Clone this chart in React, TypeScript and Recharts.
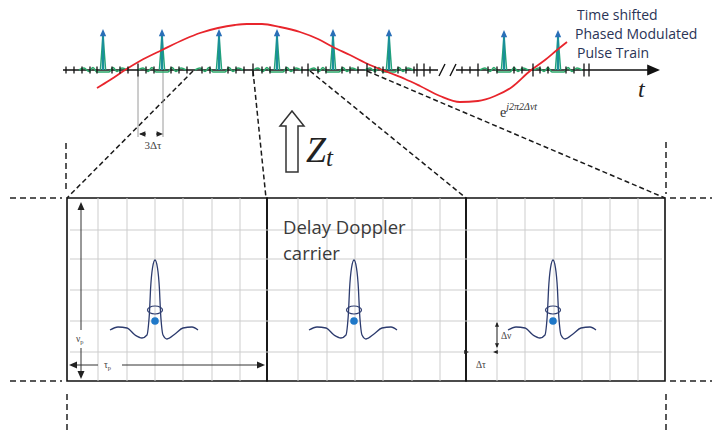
import React from 'react';
import { ComposedChart, Line, Scatter, XAxis, YAxis, ReferenceLine, ReferenceArea } from 'recharts';

// diagram units: one unit = one pixel of the figure, y grows downward
const W = 712;
const H = 434;

// time axis
const axisY = 70;
const axisParts = [[63, 438], [456, 656]];
const axisBreaks = [442, 453];
const minorTicks = [66, 74, 82, 90, 97, 112, 120, 128, 146, 154, 171, 179, 187, 202, 210, 228, 236, 244, 262, 270, 286, 294, 302, 318, 326, 342, 350, 358, 375, 383, 398, 406, 414, 430, 462, 470, 488, 497, 514, 522, 540, 548, 566, 574];
const majorTicks = [138, 253, 308, 367, 417, 424, 478, 533, 584, 589];

// pulse train
const pulseTimes = [103, 162, 219, 277, 333, 389, 504, 558];
const pulseTops = [29, 29, 29, 29, 29, 29, 30, 30];
const rippleDx = [-24, -19, -14, -10, -6, 6, 10, 14, 19, 24];
const rippleDy = [0, -2, 1.5, -2.5, 2, 2, -2.5, 1.5, -2, 0];

// phase modulation e^{j2π2Δνt}
const carrierX = [97, 110, 125, 140, 162, 185, 200, 218, 235, 247, 262, 280, 300, 318, 333, 350, 370, 390, 405, 420, 440, 460, 478, 495, 512, 530, 545, 557, 567];
const carrierY = [88, 80, 70, 61, 50, 39, 33, 28, 25, 24, 24, 27, 32, 39, 47, 55, 65, 73, 79, 86, 96, 102, 101, 96, 87, 71, 60, 50, 42];

// zoom guides from the axis to the delay-Doppler frames
const guideFrom = [[193, 71], [253, 71], [310, 71], [367, 71]];
const guideTo = [[67, 198], [266, 198], [466, 198], [665, 198]];

// delay-Doppler frames
const frameLeft = [67, 267, 466];
const frameRight = 665;
const frameTop = 198;
const frameBottom = 381;
const gridX = [98, 127, 155, 183, 212, 240, 298, 327, 355, 383, 412, 440, 497, 525, 554, 582, 610, 638];
const gridY = [230, 259, 290, 321, 352];

// sinc-like carrier pulse
const sincCenters = [155, 354, 553];
const sincDx = [-45, -37, -28, -20, -13, -8, -6.5, -5.5, -4.5, -2.5, 0, 2.5, 4.5, 5.5, 6.5, 8, 12, 20, 28, 37, 43];
const sincY = [330, 327, 328, 335, 338, 335, 325, 312, 290, 268, 260, 268, 290, 312, 325, 335, 339, 334, 328, 327, 330];
const ringY = 310;
const dotY = 321;

const seg = (x1: number, y1: number, x2: number, y2: number) => [{ x: x1, y: y1 }, { x: x2, y: y2 }] as any;

const pulseStems: any[] = [];
pulseTimes.forEach((t, i) => {
  pulseStems.push({ x: t, y: axisY }, { x: t, y: pulseTops[i] + 4 }, { x: t, y: null });
});
const pulseBodies: any[] = [];
pulseTimes.forEach((t, i) => {
  pulseBodies.push({ x: t - 2.6, y: axisY }, { x: t, y: pulseTops[i] + 6 }, { x: t + 2.6, y: axisY }, { x: t + 3, y: null });
});

const ripples: any[] = [];
pulseTimes.forEach((t) => {
  rippleDx.forEach((d, j) => ripples.push({ x: t + d, y: axisY + rippleDy[j] }));
  ripples.push({ x: t + 25, y: null });
});

const carrier = carrierX.map((x, i) => ({ x, y: carrierY[i] }));

const sinc: any[] = [];
sincCenters.forEach((c) => {
  sincDx.forEach((d, j) => sinc.push({ x: c + d, y: sincY[j] }));
  sinc.push({ x: c + 44, y: null });
});

const ticks = [
  ...minorTicks.map((x) => ({ x, y: axisY, h: 3.5 })),
  ...majorTicks.map((x) => ({ x, y: axisY, h: 6.5 })),
];

const heads = [
  ...pulseTimes.map((x, i) => ({ x, y: pulseTops[i], a: -90, s: 4.5, c: '#2a6fb8' })),
  { x: 660, y: axisY, a: 0, s: 8, c: '#111' },
  { x: 139, y: 134, a: 180, s: 4, c: '#222' },
  { x: 163, y: 134, a: 0, s: 4, c: '#222' },
  { x: 81, y: 202, a: -90, s: 5, c: '#222' },
  { x: 81, y: 379, a: 90, s: 5, c: '#222' },
  { x: 69, y: 365, a: 180, s: 5, c: '#222' },
  { x: 265, y: 365, a: 0, s: 5, c: '#222' },
  { x: 497, y: 322, a: -90, s: 3, c: '#222' },
  { x: 497, y: 348, a: 90, s: 3, c: '#222' },
  { x: 469, y: 352, a: 0, s: 3, c: '#222' },
  { x: 493, y: 352, a: 180, s: 3, c: '#222' },
];

const notes = [
  { x: 577, y: 20, k: 'txt', t: 'Time shifted' },
  { x: 575, y: 39, k: 'txt', t: 'Phased Modulated' },
  { x: 577, y: 58, k: 'txt', t: 'Pulse Train' },
  { x: 638, y: 97, k: 'tvar' },
  { x: 500, y: 117, k: 'exp' },
  { x: 153, y: 149, k: 'dt3' },
  { x: 306, y: 162, k: 'zt' },
  { x: 292, y: 142, k: 'bigArrow' },
  { x: 283, y: 234, k: 'dd', t: 'Delay Doppler' },
  { x: 283, y: 260, k: 'dd', t: 'carrier' },
  { x: 76, y: 342, k: 'small', t: 'ν', s: 'p' },
  { x: 104, y: 368, k: 'small', t: 'τ', s: 'p' },
  { x: 501, y: 339, k: 'small', t: 'Δν' },
  { x: 476, y: 368, k: 'small', t: 'Δτ' },
];

const rings = sincCenters.map((x) => ({ x, y: ringY }));
const dots = sincCenters.map((x) => ({ x, y: dotY }));

const Tick = ({ cx, cy, payload }: any) => (
  <line x1={cx} x2={cx} y1={cy - payload.h} y2={cy + payload.h} stroke="#111" strokeWidth={1.3} />
);

const Head = ({ cx, cy, payload }: any) => {
  const s = payload.s;
  return (
    <path d={`M0,0 L${-s * 1.6},${-s * 0.7} L${-s * 1.6},${s * 0.7} Z`} fill={payload.c}
      transform={`translate(${cx},${cy}) rotate(${payload.a})`} />
  );
};

const Ring = ({ cx, cy }: any) => (
  <ellipse cx={cx} cy={cy} rx={7.5} ry={4} fill="none" stroke="#2c3b6e" strokeWidth={1.2} />
);

const Dot = ({ cx, cy }: any) => <circle cx={cx} cy={cy} r={3.8} fill="#1f78c8" />;

const Note = ({ cx, cy, payload }: any) => {
  const p = payload;
  if (p.k === 'txt')
    return <text x={cx} y={cy} fontFamily="Open Sans, Liberation Sans, sans-serif" fontSize={14} fill="#2a3456">{p.t}</text>;
  if (p.k === 'dd')
    return <text x={cx} y={cy} fontFamily="Open Sans, Liberation Sans, sans-serif" fontSize={18.5} fill="#3a3a3a">{p.t}</text>;
  if (p.k === 'tvar')
    return <text x={cx} y={cy} fontFamily="Liberation Serif, serif" fontStyle="italic" fontSize={24} fill="#222">t</text>;
  if (p.k === 'exp')
    return (
      <text x={cx} y={cy} fontFamily="Liberation Serif, serif" fill="#333">
        <tspan fontSize={14}>e</tspan>
        <tspan fontSize={10} fontStyle="italic" dy={-7}>j2π2Δνt</tspan>
      </text>
    );
  if (p.k === 'dt3')
    return <text x={cx} y={cy} textAnchor="middle" fontFamily="Liberation Serif, serif" fontSize={11} fill="#444">3Δτ</text>;
  if (p.k === 'zt')
    return (
      <text x={cx} y={cy} fontFamily="Liberation Serif, serif" fontStyle="italic" fill="#222">
        <tspan fontSize={36}>Z</tspan>
        <tspan fontSize={25} dy={4}>t</tspan>
      </text>
    );
  if (p.k === 'bigArrow')
    return (
      <polygon transform={`translate(${cx},${cy})`}
        points="0,-31 12,-16 6,-16 6,30 -6,30 -6,-16 -12,-16"
        fill="#fff" stroke="#333" strokeWidth={1.5} />
    );
  if (p.k === 'small')
    return (
      <text x={cx} y={cy} fontFamily="Liberation Serif, serif" fontSize={9.5} fill="#444">
        {p.t}
        {p.s ? <tspan fontSize={6.5} dy={2}>{p.s}</tspan> : null}
      </text>
    );
  return null;
};

export default function App() {
  const thinDash = '6 4';
  return (
    <div style={{ width: W, height: H, background: '#fff' }}>
      <style>{'body{margin:0}'}</style>
      <ComposedChart width={W} height={H} margin={{ top: 0, right: 0, bottom: 0, left: 0 }}>
        <XAxis type="number" dataKey="x" domain={[0, W]} hide allowDataOverflow />
        <YAxis type="number" dataKey="y" domain={[0, H]} reversed hide allowDataOverflow />

        {/* grid inside the frames */}
        {gridX.map((x) => (
          <ReferenceLine key={'gx' + x} segment={seg(x, frameTop, x, frameBottom)} stroke="#cdcdcd" strokeWidth={1} />
        ))}
        {gridY.map((y) => (
          <ReferenceLine key={'gy' + y} segment={seg(frameLeft[0] + 3, y, frameRight - 3, y)} stroke="#cdcdcd" strokeWidth={1} />
        ))}
        {frameLeft.map((x1, i) => (
          <ReferenceArea key={'fr' + i} x1={x1} x2={i < 2 ? frameLeft[i + 1] : frameRight} y1={frameTop} y2={frameBottom}
            fill="none" fillOpacity={0} stroke="#111" strokeWidth={1.6} />
        ))}

        {/* outside dashed frame markers */}
        <ReferenceLine segment={seg(10, frameTop, 62, frameTop)} stroke="#222" strokeWidth={1.5} strokeDasharray={thinDash} />
        <ReferenceLine segment={seg(670, frameTop, W, frameTop)} stroke="#222" strokeWidth={1.5} strokeDasharray={thinDash} />
        <ReferenceLine segment={seg(10, frameBottom, 62, frameBottom)} stroke="#222" strokeWidth={1.5} strokeDasharray={thinDash} />
        <ReferenceLine segment={seg(670, frameBottom, W, frameBottom)} stroke="#222" strokeWidth={1.5} strokeDasharray={thinDash} />
        <ReferenceLine segment={seg(66, 143, 66, 193)} stroke="#222" strokeWidth={1.5} strokeDasharray={thinDash} />
        <ReferenceLine segment={seg(666, 142, 666, 194)} stroke="#222" strokeWidth={1.5} strokeDasharray={thinDash} />
        <ReferenceLine segment={seg(67, 394, 67, H)} stroke="#222" strokeWidth={1.5} strokeDasharray={thinDash} />
        <ReferenceLine segment={seg(666, 394, 666, H)} stroke="#222" strokeWidth={1.5} strokeDasharray={thinDash} />

        {/* guides from the time axis */}
        {guideFrom.map((f, i) => (
          <ReferenceLine key={'gd' + i} segment={seg(f[0], f[1], guideTo[i][0], guideTo[i][1])}
            stroke="#1a1a1a" strokeWidth={1.5} strokeDasharray="5 3" />
        ))}
        <ReferenceLine segment={seg(138, axisY, 138, 137)} stroke="#9a9a9a" strokeWidth={1} />
        <ReferenceLine segment={seg(163, axisY, 163, 137)} stroke="#9a9a9a" strokeWidth={1} />
        <ReferenceLine segment={seg(146, 134, 140, 134)} stroke="#222" strokeWidth={1} />
        <ReferenceLine segment={seg(156, 134, 161, 134)} stroke="#222" strokeWidth={1} />

        {/* frame annotations */}
        <ReferenceLine segment={seg(81, 205, 81, 330)} stroke="#333" strokeWidth={1} />
        <ReferenceLine segment={seg(81, 348, 81, 377)} stroke="#333" strokeWidth={1} />
        <ReferenceLine segment={seg(71, 365, 98, 365)} stroke="#333" strokeWidth={1} />
        <ReferenceLine segment={seg(122, 365, 263, 365)} stroke="#333" strokeWidth={1} />
        <ReferenceLine segment={seg(497, 323, 497, 347)} stroke="#333" strokeWidth={1} />

        {/* time axis */}
        {axisParts.map((p, i) => (
          <ReferenceLine key={'ax' + i} segment={seg(p[0], axisY, p[1], axisY)} stroke="#111" strokeWidth={1.6} />
        ))}
        {axisBreaks.map((x) => (
          <ReferenceLine key={'br' + x} segment={seg(x - 3, axisY + 6, x + 3, axisY - 6)} stroke="#111" strokeWidth={1.4} />
        ))}

        <Line data={ripples} dataKey="y" type="monotone" stroke="#2aa86a" strokeWidth={1.5} dot={false} isAnimationActive={false} connectNulls={false} />
        <Line data={pulseBodies} dataKey="y" type="linear" stroke="#22a27a" strokeWidth={1.5} dot={false} isAnimationActive={false} connectNulls={false} />
        <Line data={pulseStems} dataKey="y" type="linear" stroke="#1a8f9a" strokeWidth={2.2} dot={false} isAnimationActive={false} connectNulls={false} />
        <Line data={carrier} dataKey="y" type="monotone" stroke="#e8252c" strokeWidth={1.8} dot={false} isAnimationActive={false} />
        <Line data={sinc} dataKey="y" type="monotone" stroke="#2c3b6e" strokeWidth={1.3} dot={false} isAnimationActive={false} connectNulls={false} />

        <Scatter data={ticks} shape={<Tick />} isAnimationActive={false} />
        <Scatter data={heads} shape={<Head />} isAnimationActive={false} />
        <Scatter data={rings} shape={<Ring />} isAnimationActive={false} />
        <Scatter data={dots} shape={<Dot />} isAnimationActive={false} />
        <Scatter data={notes} shape={<Note />} isAnimationActive={false} />
      </ComposedChart>
    </div>
  );
}
